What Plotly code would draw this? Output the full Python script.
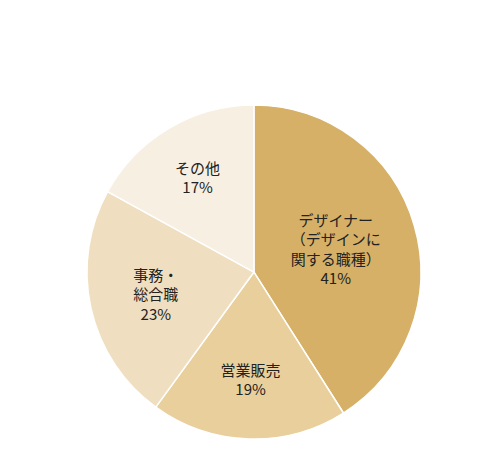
import plotly.graph_objects as go

labels = ["デザイナー<br>（デザインに<br>関する職種）", "営業販売", "事務・<br>総合職", "その他"]
values = [41, 19, 23, 17]
colors = ["#d6b066", "#e8cf9b", "#efdfc0", "#f7efe1"]

fig = go.Figure(go.Pie(
    labels=labels,
    values=values,
    text=[f"{l}<br>{v}%" for l, v in zip(labels, values)],
    textinfo="text",
    textposition="inside",
    insidetextorientation="horizontal",
    sort=False,
    direction="clockwise",
    rotation=0,
    marker=dict(colors=colors, line=dict(color="white", width=1.5)),
    textfont=dict(family="Noto Sans CJK JP", size=15, color="#222"),
    domain=dict(x=[0.162, 0.848], y=[0.063, 0.789]),
    hoverinfo="skip",
))

fig.update_layout(
    width=487, height=460, showlegend=False,
    margin=dict(l=0, r=0, t=0, b=0),
    paper_bgcolor="white",
    uniformtext=dict(minsize=15, mode="show"),
)

fig.write_html("out.html")
